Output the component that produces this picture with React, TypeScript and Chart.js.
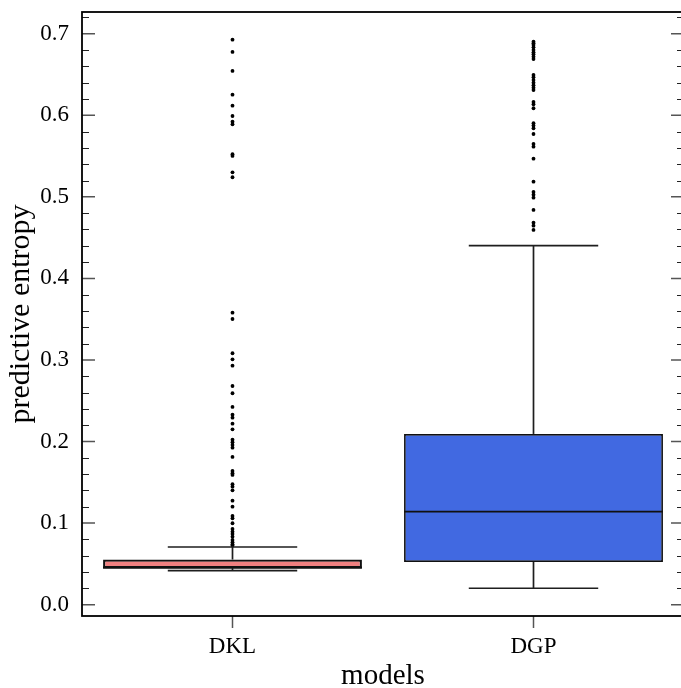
import React, { useEffect, useRef } from 'react';
import { Chart, registerables } from 'chart.js';

Chart.register(...registerables);

const categories = ['DKL', 'DGP'];
const q1 = [0.0447, 0.0523];
const q3 = [0.0553, 0.2093];
const medians = [0.0455, 0.114];
const whiskerLow = [0.0417, 0.0201];
const whiskerHigh = [0.0707, 0.4401];

const dklOutliers = [
  0.6927, 0.6776, 0.6543, 0.6252, 0.6117, 0.5991, 0.5921, 0.5889, 0.5522, 0.5501,
  0.5301, 0.524, 0.358, 0.3502, 0.3082, 0.3008, 0.293, 0.2681, 0.2592, 0.2424,
  0.2329, 0.2293, 0.2219, 0.215, 0.2023, 0.1991, 0.1958, 0.1925, 0.1811, 0.1639,
  0.1611, 0.159, 0.1476, 0.1447, 0.1402, 0.1275, 0.1201, 0.1087, 0.1059, 0.0998,
  0.0928, 0.0895, 0.0867, 0.0834, 0.0793, 0.0765, 0.074, 0.0725,
];
const dgpOutliers = [
  0.6902, 0.6882, 0.6862, 0.6833, 0.68, 0.6772, 0.6748, 0.6718, 0.669, 0.6494,
  0.6466, 0.6432, 0.6399, 0.6367, 0.6338, 0.631, 0.6163, 0.6135, 0.6086, 0.5902,
  0.5873, 0.584, 0.577, 0.5648, 0.5615, 0.5468, 0.5186, 0.5059, 0.5026, 0.499,
  0.4839, 0.4683, 0.4646, 0.4594,
];

const boxColors = ['#F08080', '#4169E1'];
const boxEdgeWidths = [2.3, 1.7];
const yTicks = [0.0, 0.1, 0.2, 0.3, 0.4, 0.5, 0.6, 0.7];
const yMinorTicks = [
  0.02, 0.04, 0.06, 0.08, 0.12, 0.14, 0.16, 0.18, 0.22, 0.24, 0.26, 0.28,
  0.32, 0.34, 0.36, 0.38, 0.42, 0.44, 0.46, 0.48, 0.52, 0.54, 0.56, 0.58,
  0.62, 0.64, 0.66, 0.68, 0.72,
];
const yMin = -0.0139;
const yMax = 0.7266;

const FONT = '"Liberation Serif", "Times New Roman", serif';

const forceAreaPlugin = {
  id: 'forceArea',
  afterLayout(chart: any) {
    const area = chart.chartArea;
    area.left = 82;
    area.right = 684;
    area.top = 12;
    area.bottom = 616;
    area.width = area.right - area.left;
    area.height = area.bottom - area.top;
    const x = chart.scales.x;
    const y = chart.scales.y;
    x.left = 82; x.right = 684; x.width = 602; x.top = 616; x.bottom = 688; x.height = 72;
    y.top = 12; y.bottom = 616; y.height = 604; y.left = 0; y.right = 82; y.width = 82;
    x.configure();
    y.configure();
  },
};

const boxPartsPlugin = {
  id: 'boxParts',
  afterDatasetsDraw(chart: any) {
    const { ctx, scales } = chart;
    const x = scales.x;
    const y = scales.y;
    const meta = chart.getDatasetMeta(0);
    ctx.save();
    ctx.lineCap = 'butt';
    categories.forEach((_c, i) => {
      const bar = meta.data[i];
      const cx = x.getPixelForValue(i);
      const half = bar.width / 2;
      const seg = (x1: number, y1: number, x2: number, y2: number) => {
        ctx.beginPath();
        ctx.moveTo(x1, y1);
        ctx.lineTo(x2, y2);
        ctx.stroke();
      };
      ctx.strokeStyle = '#1e1e1e';
      ctx.lineWidth = 1.7;
      seg(cx, y.getPixelForValue(q3[i]), cx, y.getPixelForValue(whiskerHigh[i]));
      seg(cx, y.getPixelForValue(q1[i]), cx, y.getPixelForValue(whiskerLow[i]));
      seg(cx - half / 2, y.getPixelForValue(whiskerHigh[i]), cx + half / 2, y.getPixelForValue(whiskerHigh[i]));
      seg(cx - half / 2, y.getPixelForValue(whiskerLow[i]), cx + half / 2, y.getPixelForValue(whiskerLow[i]));
      ctx.strokeStyle = '#111';
      ctx.lineWidth = boxEdgeWidths[i];
      seg(cx - half, y.getPixelForValue(medians[i]), cx + half, y.getPixelForValue(medians[i]));
    });
    ctx.restore();
  },
};

const framePlugin = {
  id: 'frameTicks',
  afterDraw(chart: any) {
    const { ctx, chartArea, scales } = chart;
    const { left, right, top, bottom } = chartArea;
    const y = scales.y;
    const x = scales.x;
    ctx.save();
    ctx.strokeStyle = '#222';
    ctx.lineWidth = 1;
    yMinorTicks.forEach((v) => {
      const py = Math.round(y.getPixelForValue(v)) + 0.5;
      ctx.beginPath();
      ctx.moveTo(left, py);
      ctx.lineTo(left + 7, py);
      ctx.moveTo(right, py);
      ctx.lineTo(right - 7, py);
      ctx.stroke();
    });
    ctx.strokeStyle = '#555';
    ctx.lineWidth = 1.5;
    yTicks.forEach((v) => {
      const py = y.getPixelForValue(v);
      ctx.beginPath();
      ctx.moveTo(left, py);
      ctx.lineTo(left + 13, py);
      ctx.moveTo(right, py);
      ctx.lineTo(right - 13, py);
      ctx.stroke();
    });
    categories.forEach((_c, i) => {
      const px = x.getPixelForValue(i);
      ctx.beginPath();
      ctx.moveTo(px, bottom);
      ctx.lineTo(px, bottom + 12);
      ctx.stroke();
    });
    ctx.strokeStyle = '#000';
    ctx.lineWidth = 1.8;
    ctx.strokeRect(left, top, right - left, bottom - top);
    ctx.restore();
  },
};

export default function App() {
  const canvasRef = useRef<HTMLCanvasElement | null>(null);

  useEffect(() => {
    if (!canvasRef.current) return;
    const outlierPoints = [
      ...dklOutliers.map((v) => ({ x: categories[0], y: v })),
      ...dgpOutliers.map((v) => ({ x: categories[1], y: v })),
    ];
    const chart = new Chart(canvasRef.current, {
      type: 'bar',
      data: {
        labels: categories,
        datasets: [
          {
            type: 'bar',
            label: 'box',
            data: categories.map((_c, i) => [q1[i], q3[i]]),
            backgroundColor: boxColors,
            borderColor: '#111',
            borderWidth: boxEdgeWidths,
            borderSkipped: false,
            barPercentage: 0.86,
            categoryPercentage: 1,
            order: 2,
          } as any,
          {
            type: 'line',
            label: 'outliers',
            data: outlierPoints as any,
            showLine: false,
            pointRadius: 1.9,
            pointBackgroundColor: '#000',
            pointBorderWidth: 0,
            pointHoverRadius: 1.9,
            order: 0,
          } as any,
        ],
      },
      options: {
        animation: false,
        responsive: false,
        devicePixelRatio: 1,
        layout: { padding: { top: 12, right: 0, bottom: 0, left: 0 } },
        plugins: {
          legend: { display: false },
          tooltip: { enabled: false },
        },
        scales: {
          x: {
            type: 'category',
            offset: true,
            grid: { display: false, drawTicks: false },
            border: { display: false },
            ticks: {
              color: '#000',
              padding: 17,
              font: { family: FONT, size: 23 },
            },
            title: {
              display: true,
              text: 'models',
              color: '#000',
              padding: { top: 0, bottom: 0 },
              font: { family: FONT, size: 29, lineHeight: 0.8 },
            },
            afterFit: (scale: any) => {
              scale.height = 72;
              scale.paddingLeft = 0;
              scale.paddingRight = 0;
            },
          },
          y: {
            type: 'linear',
            min: yMin,
            max: yMax,
            grid: { display: false, drawTicks: false },
            border: { display: false },
            afterBuildTicks: (scale: any) => {
              scale.ticks = yTicks.map((v) => ({ value: v }));
            },
            ticks: {
              color: '#000',
              padding: 13,
              font: { family: FONT, size: 23 },
              callback: (v: any) => Number(v).toFixed(1),
            },
            title: {
              display: true,
              text: 'predictive entropy',
              color: '#000',
              padding: { top: 9.5, bottom: 0 },
              font: { family: FONT, size: 30, lineHeight: 0.8 },
            },
            afterFit: (scale: any) => {
              scale.width = 82;
              scale.paddingTop = 0;
              scale.paddingBottom = 0;
            },
          },
        },
      },
      plugins: [forceAreaPlugin, boxPartsPlugin, framePlugin],
    });
    return () => chart.destroy();
  }, []);

  return (
    <div style={{ position: 'fixed', left: 0, top: 0, width: 681, height: 688, background: '#fff' }}>
      <canvas ref={canvasRef} width={681} height={688} style={{ width: 681, height: 688, display: 'block' }} />
    </div>
  );
}
